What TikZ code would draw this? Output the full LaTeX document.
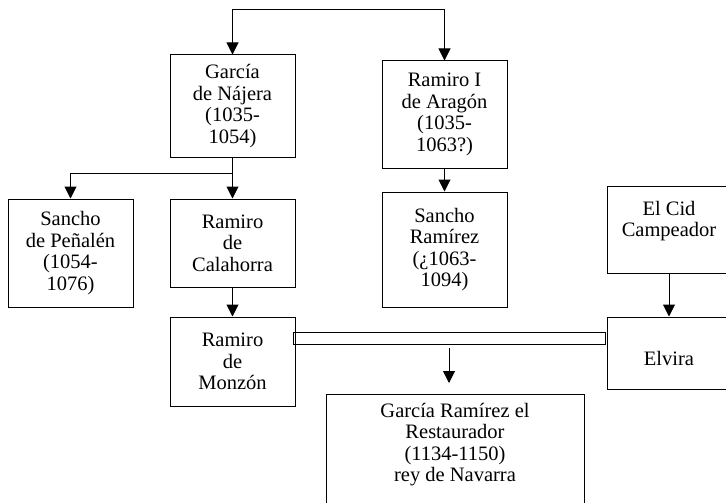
\documentclass[tikz,border=0pt]{standalone}
\usepackage{fontspec}
\setmainfont{Liberation Serif}
\usetikzlibrary{arrows.meta, calc}

\begin{document}
\begin{tikzpicture}[x=1pt, y=-1pt, line width=1pt,
  person/.style={draw, align=center, inner sep=0pt, minimum width=125pt, font=\fontsize{20.5}{21.5}\selectfont},
  bond/.style={draw, inner sep=0pt, minimum height=12pt},
  arr/.style={-{Triangle[width=12pt, length=12pt]}}]
	\useasboundingbox (0,0) rectangle (726,503);
	% first generation
	\node[person, minimum height=102pt] (garcia) at (232.5,106) {García\\de Nájera\\(1035-\\1054)};
	\node[person, minimum height=107pt] (ramiro) at (444.5,114.5) {Ramiro I\\de Aragón\\(1035-\\1063?)};
	% second generation
	\node[person, minimum height=108pt] (sancho) at (70.5,253) {Sancho\\de Peñalén\\(1054-\\1076)};
	\node[person, minimum height=88pt] (calahorra) at (232.5,243) {Ramiro\\de\\Calahorra};
	\node[person, minimum height=115pt] (sanchoram) at (444.5,249.5) {Sancho\\Ramírez\\(¿1063-\\1094)};
	\node[person, minimum width=124pt, minimum height=87pt] (cid) at (669,229.5) {El Cid\\Campeador\\\mbox{}};
	% third generation
	\node[person, minimum height=89pt] (monzon) at (232.5,361.5) {Ramiro\\de\\Monzón};
	\node[person, minimum width=124pt, minimum height=72pt, text height=24pt, text depth=0pt] (elvira) at (669,353) {Elvira};
	\node[bond, minimum width=312pt] (union) at (449,338) {};
	\node[person, minimum width=258pt, minimum height=118pt] (restaurador) at (455,453) {García Ramírez el\\Restaurador\\(1134-1150)\\rey de Navarra\\\mbox{}};

	\coordinate (root) at (338,10);
	\coordinate (split) at (232.5,173);
	\coordinate (heirtip) at (449,383);

	\draw[arr] (root) -| (garcia.north);
	\draw[arr] (root) -| (ramiro.north);
	\draw (garcia.south) -- (split);
	\draw[arr] (split) -| (sancho.north);
	\draw[arr] (split) -- (calahorra.north);
	\draw[arr] (calahorra.south) -- (monzon.north);
	\draw[arr] (ramiro.south) -- (sanchoram.north);
	\draw[arr] (cid.south) -- (elvira.north);
	\draw[arr] ([yshift=-3pt]union.south) -- (heirtip);
\end{tikzpicture}
\end{document}
